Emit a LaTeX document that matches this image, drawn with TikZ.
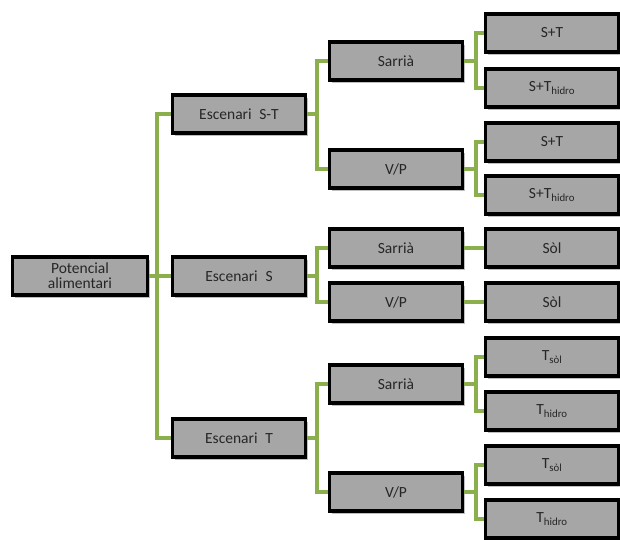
\documentclass[tikz,border=0pt]{standalone}
\usepackage{fontspec}
\setmainfont{Carlito}
\usetikzlibrary{shadows}
\definecolor{boxgray}{HTML}{A6A6A6}
\definecolor{linkgreen}{HTML}{8CAF4E}
\tikzset{
  box/.style={draw=black, line width=3.2pt, fill=boxgray, minimum width=133pt, minimum height=38pt,
    inner sep=1pt, align=center, font=\fontsize{15.5}{17}\selectfont, text=black!85,
    drop shadow={shadow xshift=2pt, shadow yshift=-3pt, opacity=0.25, fill=black}},
  link/.style={draw=linkgreen, line width=4.6pt}
}
\begin{document}
\begin{tikzpicture}[x=1pt,y=-1pt]
\useasboundingbox (0,0) rectangle (620,539);
% root
\node[box, minimum width=135pt] (root) at (80,276) {Potencial\\[-2pt]alimentari};
% level 1
\node[box] (st) at (239,114) {Escenari\hspace{0.5em}S-T};
\node[box] (s)  at (239,276) {Escenari\hspace{0.5em}S};
\node[box] (t)  at (239,438) {Escenari\hspace{0.5em}T};
% level 2
\node[box] (stA) at (396,61)  {Sarrià};
\node[box] (stB) at (396,169) {V/P};
\node[box] (sA)  at (396,248) {Sarrià};
\node[box] (sB)  at (396,302) {V/P};
\node[box] (tA)  at (396,384) {Sarrià};
\node[box] (tB)  at (396,492) {V/P};
% level 3
\node[box] (stA1) at (552,33)  {S+T};
\node[box] (stA2) at (552,88)  {S+T\textsubscript{hidro}};
\node[box] (stB1) at (552,142) {S+T};
\node[box] (stB2) at (552,195) {S+T\textsubscript{hidro}};
\node[box] (sA1)  at (552,248) {Sòl};
\node[box] (sB1)  at (552,302) {Sòl};
\node[box] (tA1)  at (552,357) {T\textsubscript{sòl}};
\node[box] (tA2)  at (552,411) {T\textsubscript{hidro}};
\node[box] (tB1)  at (552,465) {T\textsubscript{sòl}};
\node[box] (tB2)  at (552,519) {T\textsubscript{hidro}};
% connectors
\foreach \p/\c in {root/st, root/s, root/t}
  \draw[link] (\p.east) -- ++(8,0) |- (\c.west);
\foreach \p/\c in {st/stA, st/stB, s/sA, s/sB, t/tA, t/tB}
  \draw[link] (\p.east) -- ++(10,0) |- (\c.west);
\foreach \p/\c in {stA/stA1, stA/stA2, stB/stB1, stB/stB2, tA/tA1, tA/tA2, tB/tB1, tB/tB2}
  \draw[link] (\p.east) -- ++(12,0) |- (\c.west);
\draw[link] (sA.east) -- (sA1.west);
\draw[link] (sB.east) -- (sB1.west);
\end{tikzpicture}
\end{document}
